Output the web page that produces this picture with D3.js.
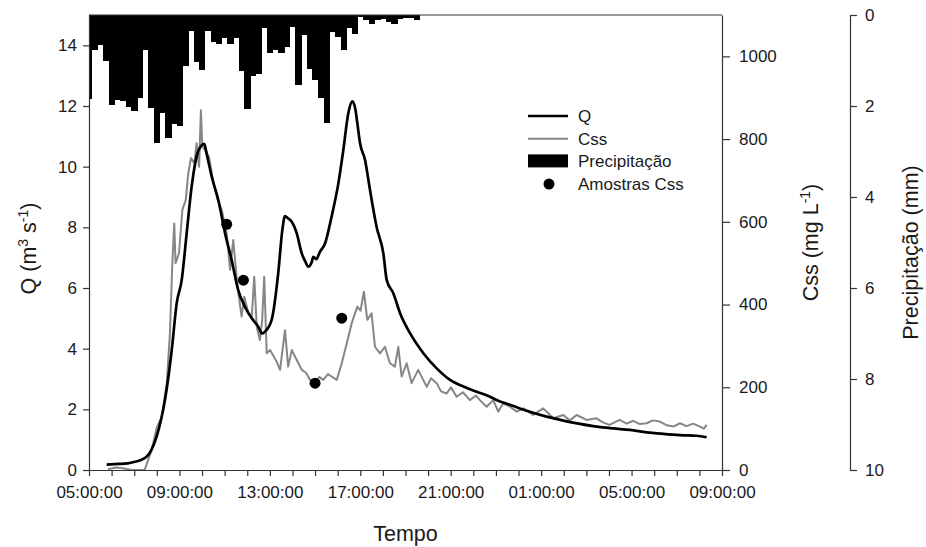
<!DOCTYPE html>
<html><head><meta charset="utf-8">
<script src="https://cdn.jsdelivr.net/npm/d3@7"></script>
<style>
body{margin:0;background:#fff}
text{font-family:"Liberation Sans",Arial,sans-serif;fill:#1a1a1a}
</style>
</head><body>
<svg id="chart" width="926" height="547"></svg>
<script>
// ---------- DATA (time in hours after 05:00:00) ----------
const qHours = [0.78,1.3,1.7,2.03,2.3,2.55,2.75,2.99,3.2,3.36,3.5,3.66,3.88,4.1,4.32,4.54,4.76,4.98,5.1,5.2,5.43,5.72,6.02,6.31,6.6,6.9,7.2,7.49,7.65,7.78,8.08,8.37,8.55,8.67,8.8,8.96,9.19,9.41,9.55,9.7,9.85,9.92,10.05,10.22,10.44,10.73,11.03,11.25,11.47,11.65,11.78,11.87,11.99,12.21,12.43,12.72,13.02,13.17,13.46,13.76,14.2,14.79,15.38,15.97,16.56,17.15,17.66,18.03,18.77,19.5,20.24,20.98,21.72,22.45,23.19,23.93,24.67,25.4,26.14,26.88,27.32];
const qValues = [0.18,0.2,0.22,0.27,0.33,0.44,0.65,1.1,1.7,2.31,3.0,3.96,5.5,6.26,7.8,9.34,10.33,10.7,10.75,10.44,9.67,8.9,7.8,6.92,5.93,5.38,5.0,4.72,4.5,4.56,4.95,6.49,7.9,8.37,8.3,8.19,7.8,7.14,6.9,6.7,6.85,7.03,6.95,7.2,7.47,8.35,9.45,10.55,11.76,12.15,11.9,11.43,10.77,10.22,9.23,8.02,7.14,6.26,5.83,5.17,4.51,3.85,3.35,2.97,2.75,2.58,2.44,2.31,2.11,1.92,1.76,1.63,1.52,1.43,1.37,1.32,1.24,1.19,1.15,1.13,1.08];

const cssHours = [0.84,1.2,1.5,1.9,2.46,2.77,2.99,3.22,3.44,3.58,3.68,3.77,3.83,3.98,4.13,4.28,4.39,4.51,4.66,4.76,4.87,4.95,5.01,5.13,5.31,5.5,5.69,5.87,6.09,6.24,6.38,6.53,6.63,6.75,6.87,7.05,7.2,7.31,7.42,7.56,7.66,7.75,7.86,8.01,8.3,8.45,8.67,8.81,8.97,9.19,9.41,9.6,9.77,10.0,10.18,10.36,10.57,10.73,10.96,11.18,11.4,11.62,11.87,12.01,12.16,12.31,12.5,12.65,12.87,13.09,13.31,13.53,13.68,13.83,14.05,14.27,14.56,14.94,15.13,15.38,15.57,15.82,16.01,16.26,16.54,16.85,17.12,17.29,17.59,17.88,18.1,18.32,18.62,18.92,19.21,19.65,20.09,20.54,20.98,21.27,21.57,22.01,22.45,22.73,23.02,23.47,23.79,24.07,24.37,24.67,24.94,25.25,25.56,25.85,26.14,26.43,26.72,27.03,27.2,27.32];
const cssValues = [2,6,4,0,0,48,101,129,210,330,491,596,500,524,629,653,717,754,742,790,733,870,782,774,757,693,653,629,572,484,556,467,419,371,419,379,371,467,346,314,363,467,282,290,262,242,338,250,290,266,242,235,218,210,225,218,232,226,218,258,306,355,395,385,431,363,379,298,282,298,258,250,298,226,258,210,242,201,222,210,190,185,200,177,188,169,180,169,153,169,141,161,153,141,149,133,149,125,133,120,133,121,125,115,109,121,112,119,111,113,120,117,108,105,113,106,112,105,100,109];

const precipStartHour = 0;      // first bar at 05:00:00
const precipStepHours = 0.25;   // 15-minute totals
const precipValues = [1.85,0.78,0.67,1.0,1.98,1.87,1.9,2.03,2.12,1.83,0.78,2.05,2.81,2.15,2.71,2.4,2.44,1.12,0.35,1.03,1.21,0.35,0.6,0.64,0.51,0.64,0.51,1.23,2.07,1.34,1.3,0.29,0.83,0.78,0.84,0.7,0.26,1.54,0.45,1.19,1.43,1.83,2.38,0.37,0.48,0.78,0.29,0.42,0.04,0.1,0.2,0.1,0.08,0.15,0.2,0.08,0.06,0.06,0.12];

const sampleHours = [6.09,6.83,10.0,11.18];
const sampleValues = [594,459,210,367];

const qTicks = [0,2,4,6,8,10,12,14];
const cssTicks = [0,200,400,600,800,1000];
const precipTicks = [0,2,4,6,8,10];
const timeTickHours = d3.range(0,29,1);
const timeLabelEvery = 4;

// ---------- LAYOUT ----------
const L = 89, R = 722, T = 15, B = 470, PX = 850;
const t0 = new Date(2000,0,1,5,0,0);
const toDate = h => new Date(t0.getTime() + h*3600e3);

const x = d3.scaleTime().domain([toDate(0), toDate(28)]).range([L, R]);
const yQ = d3.scaleLinear().domain([0,15]).range([B, T]);
const yC = d3.scaleLinear().domain([0,1100]).range([B, T]);
const yP = d3.scaleLinear().domain([0,10]).range([T, B]);

const svg = d3.select("#chart");
svg.append("defs").append("clipPath").attr("id","clip")
  .append("rect").attr("x",L).attr("y",T).attr("width",R-L).attr("height",B-T);

const plot = svg.append("g").attr("clip-path","url(#clip)");

// precipitation bars
const bx0 = i => x(toDate(precipStartHour + i*precipStepHours - precipStepHours/2));
const bx1 = i => x(toDate(precipStartHour + i*precipStepHours + precipStepHours/2));
plot.selectAll("rect.p").data(precipValues).enter().append("rect")
  .attr("class","p")
  .attr("x", (d,i)=> bx0(i))
  .attr("width", (d,i)=> bx1(i) - bx0(i) + 0.6)
  .attr("y", yP(0))
  .attr("height", d => yP(d) - yP(0))
  .attr("fill","#000").attr("shape-rendering","crispEdges");

// Css line
const cssData = cssHours.map((h,i)=>({t:toDate(h), v:cssValues[i]}));
plot.append("path").datum(cssData)
  .attr("d", d3.line().x(d=>x(d.t)).y(d=>yC(d.v)))
  .attr("fill","none").attr("stroke","#868686").attr("stroke-width",2).attr("stroke-linejoin","round");

// Q line
const qData = qHours.map((h,i)=>({t:toDate(h), v:qValues[i]}));
plot.append("path").datum(qData)
  .attr("d", d3.line().curve(d3.curveMonotoneX).x(d=>x(d.t)).y(d=>yQ(d.v)))
  .attr("fill","none").attr("stroke","#000").attr("stroke-width",2.7).attr("stroke-linejoin","round");

// samples
plot.selectAll("circle.s").data(sampleHours).enter().append("circle")
  .attr("cx", h=>x(toDate(h))).attr("cy",(h,i)=>yC(sampleValues[i])).attr("r",5.5).attr("fill","#000");

// frame top line
svg.append("line").attr("x1",L).attr("x2",R).attr("y1",T).attr("y2",T).attr("stroke","#333").attr("stroke-width",1);

const fs = 17;
function styleAxis(g){
  g.selectAll("path.domain").attr("stroke","#333").attr("stroke-width",1.2);
  g.selectAll(".tick line").attr("stroke","#333").attr("stroke-width",1.2);
  g.selectAll("text").attr("font-size",fs).attr("font-family","'Liberation Sans',Arial,sans-serif").attr("fill","#1a1a1a");
}

// x axis
const fmt = d3.timeFormat("%H:%M:%S");
const gx = svg.append("g").attr("transform",`translate(0,${B})`)
  .call(d3.axisBottom(x).tickValues(timeTickHours.map(toDate))
    .tickFormat((d,i)=> i%timeLabelEvery===0 ? fmt(d) : "")
    .tickSize(6).tickSizeOuter(0).tickPadding(10));
styleAxis(gx);

// left Q axis
const gq = svg.append("g").attr("transform",`translate(${L},0)`)
  .call(d3.axisLeft(yQ).tickValues(qTicks).tickFormat(d3.format("d")).tickSize(6).tickSizeOuter(0).tickPadding(6));
styleAxis(gq);

// right Css axis
const gc = svg.append("g").attr("transform",`translate(${R},0)`)
  .call(d3.axisRight(yC).tickValues(cssTicks).tickFormat(d3.format("d")).tickSize(8).tickSizeOuter(0).tickPadding(9));
styleAxis(gc);

// precipitation axis
const gp = svg.append("g").attr("transform",`translate(${PX},0)`)
  .call(d3.axisRight(yP).tickValues(precipTicks).tickFormat(d3.format("d")).tickSize(7).tickSizeOuter(0).tickPadding(8));
styleAxis(gp);

// axis titles
const tfs = 21.5, sfs = 14;
const qt = svg.append("text").attr("transform",`translate(36,${(T+B)/2+6}) rotate(-90)`)
  .attr("text-anchor","middle").attr("font-size",tfs);
qt.append("tspan").text("Q (m");
qt.append("tspan").attr("baseline-shift","super").attr("font-size",sfs).text("3");
qt.append("tspan").text(" s");
qt.append("tspan").attr("baseline-shift","super").attr("font-size",sfs).text("-1");
qt.append("tspan").text(")");

const ct = svg.append("text").attr("transform",`translate(818,${(T+B)/2}) rotate(-90)`)
  .attr("text-anchor","middle").attr("font-size",tfs);
ct.append("tspan").text("Css (mg L");
ct.append("tspan").attr("baseline-shift","super").attr("font-size",sfs).text("-1");
ct.append("tspan").text(")");

svg.append("text").attr("transform",`translate(918,${(T+B)/2+10}) rotate(-90)`)
  .attr("text-anchor","middle").attr("font-size",tfs).text("Precipitação (mm)");

svg.append("text").attr("x",(L+R)/2).attr("y",541).attr("text-anchor","middle")
  .attr("font-size",tfs).text("Tempo");

// legend
const legendLabels = ["Q","Css","Precipitação","Amostras Css"];
const lg = svg.append("g");
const lx = 528, ly0 = 116, ldy = 22.7;
lg.append("line").attr("x1",lx).attr("x2",lx+40).attr("y1",ly0).attr("y2",ly0).attr("stroke","#000").attr("stroke-width",2.7);
lg.append("line").attr("x1",lx).attr("x2",lx+40).attr("y1",ly0+ldy).attr("y2",ly0+ldy).attr("stroke","#868686").attr("stroke-width",2);
lg.append("rect").attr("x",lx).attr("y",ly0+2*ldy-7).attr("width",40).attr("height",13).attr("fill","#000");
lg.append("circle").attr("cx",lx+21).attr("cy",ly0+3*ldy).attr("r",5.5).attr("fill","#000");
legendLabels.forEach((s,i)=>{
  lg.append("text").attr("x",lx+50).attr("y",ly0+i*ldy+6).attr("font-size",fs).text(s);
});
</script>
</body></html>
